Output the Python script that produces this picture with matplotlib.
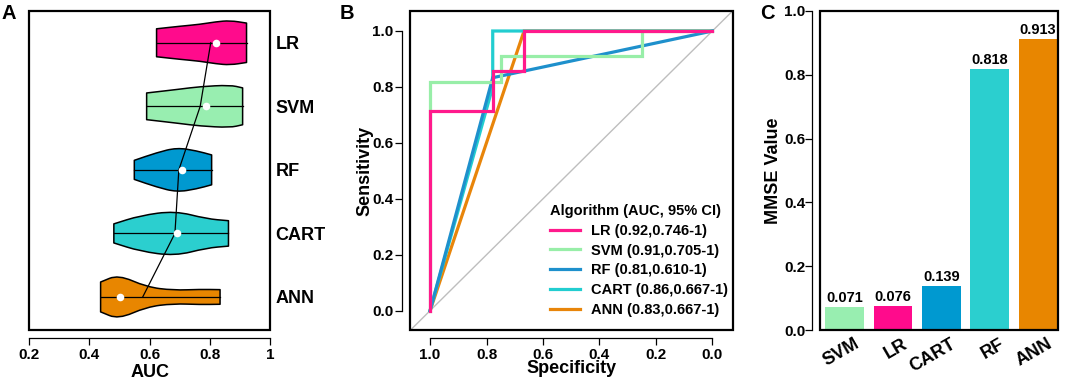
import numpy as np
import matplotlib
matplotlib.use("Agg")
import matplotlib.pyplot as plt
from matplotlib.patches import Rectangle, PathPatch
from matplotlib.path import Path
from matplotlib.transforms import ScaledTranslation

plt.rcParams['font.family'] = ['Liberation Sans', 'DejaVu Sans']
plt.rcParams['font.weight'] = 'bold'

# ---------------- data ----------------
models = ["LR", "SVM", "RF", "CART", "ANN"]
model_colors = {"LR": "#FF0B8C", "SVM": "#98EEB0", "RF": "#0099D0",
                "CART": "#2BCFCF", "ANN": "#E88600"}

# Panel A: violin outline profiles (AUC positions and half-widths)
lr_auc = [0.623, 0.70, 0.767, 0.82, 0.867, 0.922]
lr_hw = [0.22, 0.26, 0.29, 0.33, 0.35, 0.31]
svm_auc = [0.590, 0.70, 0.767, 0.867, 0.909]
svm_hw = [0.21, 0.27, 0.31, 0.335, 0.29]
rf_auc = [0.549, 0.623, 0.690, 0.756, 0.806]
rf_hw = [0.15, 0.27, 0.35, 0.30, 0.235]
cart_auc = [0.481, 0.568, 0.684, 0.789, 0.862]
cart_hw = [0.15, 0.28, 0.355, 0.23, 0.20]
ann_auc = [0.437, 0.496, 0.590, 0.679, 0.767, 0.834]
ann_hw = [0.235, 0.35, 0.157, 0.105, 0.12, 0.115]
auc_means = [0.803, 0.768, 0.697, 0.684, 0.577]
auc_medians = [0.821, 0.788, 0.707, 0.690, 0.500]

# Panel B: ROC curves (specificity, sensitivity)
lr_spec = [1.0, 1.0, 0.778, 0.778, 0.667, 0.667, 0.0]
lr_sens = [0.0, 0.714, 0.714, 0.857, 0.857, 1.0, 1.0]
svm_spec = [1.0, 1.0, 0.75, 0.75, 0.25, 0.25, 0.0]
svm_sens = [0.0, 0.818, 0.818, 0.909, 0.909, 1.0, 1.0]
rf_spec = [1.0, 0.778, 0.0]
rf_sens = [0.0, 0.833, 1.0]
cart_spec = [1.0, 0.778, 0.778, 0.0]
cart_sens = [0.0, 0.80, 1.0, 1.0]
ann_spec = [1.0, 0.667, 0.0]
ann_sens = [0.0, 1.0, 1.0]
roc_labels = ["LR (0.92,0.746-1)", "SVM (0.91,0.705-1)", "RF (0.81,0.610-1)",
              "CART (0.86,0.667-1)", "ANN (0.83,0.667-1)"]
roc_colors = ["#FF1A8C", "#98EEA8", "#1E90CC", "#22CDD0", "#E8850A"]

# Panel C: MMSE values
mmse_models = ["SVM", "LR", "CART", "RF", "ANN"]
mmse_values = [0.071, 0.076, 0.139, 0.818, 0.913]
mmse_colors = ["#98EEB0", "#FF0B8C", "#0099D0", "#2BCFCF", "#E88600"]

W, H = 1065, 381
fig = plt.figure(figsize=(W / 100, H / 100), dpi=100)


def ax_at(x0, y0, x1, y1):
    return fig.add_axes([x0 / W, 1 - y1 / H, (x1 - x0) / W, (y1 - y0) / H])


def add_box(ax):
    ax.add_patch(Rectangle((0, 0), 1, 1, transform=ax.transAxes, fill=False,
                           lw=1.6, edgecolor='black', clip_on=False, zorder=10))
    for s in ax.spines.values():
        s.set_visible(False)


def smooth_chain(pts, verts, codes, first):
    """Append a chain of points, rounding interior points with quadratic curves."""
    verts.append(pts[0]); codes.append(Path.MOVETO if first else Path.LINETO)
    n = len(pts)
    for k in range(1, n - 1):
        if k == 1:
            verts.append(((pts[0][0] + pts[1][0]) / 2, (pts[0][1] + pts[1][1]) / 2))
            codes.append(Path.LINETO)
        m1 = ((pts[k][0] + pts[k + 1][0]) / 2, (pts[k][1] + pts[k + 1][1]) / 2)
        verts.extend([pts[k], m1]); codes.extend([Path.CURVE3, Path.CURVE3])
    verts.append(pts[-1]); codes.append(Path.LINETO)


TICK_FS = 11
LAB_FS = 13

# ---------------- Panel A ----------------
axA = ax_at(29.3, 11, 270, 330)
add_box(axA)
axA.set_xlim(0.2, 1.0)
axA.set_ylim(0.48, 5.5)
profiles = {"LR": (lr_auc, lr_hw), "SVM": (svm_auc, svm_hw), "RF": (rf_auc, rf_hw),
            "CART": (cart_auc, cart_hw), "ANN": (ann_auc, ann_hw)}
ypos = {m: 5 - i for i, m in enumerate(models)}
for m in models:
    a, hw = profiles[m]
    y = ypos[m]
    top = [(xa, y + h) for xa, h in zip(a, hw)]
    bot = [(xa, y - h) for xa, h in zip(a, hw)][::-1]
    verts, codes = [], []
    smooth_chain(top, verts, codes, True)
    smooth_chain(bot, verts, codes, False)
    verts.append(top[0]); codes.append(Path.CLOSEPOLY)
    axA.add_patch(PathPatch(Path(verts, codes), facecolor=model_colors[m],
                            edgecolor='black', lw=1.1, joinstyle='round', zorder=2))
    axA.plot([a[0], a[-1]], [y, y], color='black', lw=0.9, zorder=3)
ys = [ypos[m] for m in models]
axA.plot(auc_means, ys, color='black', lw=0.9, zorder=4)
axA.scatter(auc_medians, ys, s=30, color='white', zorder=5, linewidths=0)
axA.set_xticks([0.2, 0.4, 0.6, 0.8, 1.0])
axA.set_xticklabels(["0.2", "0.4", "0.6", "0.8", "1"])
axA.spines['bottom'].set_visible(True)
axA.spines['bottom'].set_position(('outward', 6))
axA.spines['bottom'].set_bounds(0.2, 1.0)
axA.spines['bottom'].set_linewidth(0.9)
axA.tick_params(axis='x', length=5, width=0.9, labelsize=TICK_FS, pad=2)
axA.yaxis.tick_right()
axA.set_yticks(ys)
axA.set_yticklabels(models)
axA.tick_params(axis='y', length=0, labelsize=13, pad=4)
axA.set_xlabel("AUC", fontsize=LAB_FS, fontweight='bold')
axA.xaxis.set_label_coords(0.5, (330 - 376.7) / 319)
axA.xaxis.label.set_va('baseline')

# ---------------- Panel B ----------------
axB = ax_at(410, 11, 732.7, 330)
add_box(axB)
axB.set_xlim(1.071, -0.072)
axB.set_ylim(-0.069, 1.0715)
axB.axline((1, 0), (0, 1), color='#BEBEBE', lw=1.0, zorder=1)
curves = [(lr_spec, lr_sens), (svm_spec, svm_sens), (rf_spec, rf_sens),
          (cart_spec, cart_sens), (ann_spec, ann_sens)]
draw_order = [4, 3, 2, 1, 0]
handles = [None] * 5
for i in draw_order:
    sp, se = curves[i]
    ln, = axB.plot(sp, se, color=roc_colors[i], lw=2.3, zorder=3 + (4 - i),
                   solid_joinstyle='miter', label=roc_labels[i])
    handles[i] = ln
ticksB = [1.0, 0.8, 0.6, 0.4, 0.2, 0.0]
axB.set_xticks(ticksB)
axB.set_xticklabels([f"{t:.1f}" for t in ticksB])
axB.set_yticks(ticksB[::-1])
axB.set_yticklabels([f"{t:.1f}" for t in ticksB[::-1]], rotation=90, va='center')
for side in ['bottom', 'left']:
    axB.spines[side].set_visible(True)
    axB.spines[side].set_position(('outward', 6))
    axB.spines[side].set_bounds(0.0, 1.0)
    axB.spines[side].set_linewidth(0.9)
axB.tick_params(axis='x', length=5, width=0.9, labelsize=TICK_FS, pad=2)
axB.tick_params(axis='y', length=5, width=0.9, labelsize=TICK_FS, pad=1)
axB.set_xlabel("Specificity", fontsize=LAB_FS, fontweight='bold')
axB.xaxis.set_label_coords(0.5, (330 - 373.3) / 319)
axB.xaxis.label.set_va('baseline')
axB.set_ylabel("Sensitivity", fontsize=LAB_FS, fontweight='bold')
axB.yaxis.set_label_coords((373 - 410) / 322.7, 0.5)
leg = axB.legend(handles=handles, labels=roc_labels, loc='lower right',
                 bbox_to_anchor=(1.0, 0.027), frameon=False,
                 title="Algorithm (AUC, 95% CI)", prop={'weight': 'bold', 'size': 10.5},
                 title_fontproperties={'weight': 'bold', 'size': 10.5},
                 handlelength=2.05, handletextpad=0.8, labelspacing=0.4,
                 borderaxespad=0.0, borderpad=0.3, alignment='left')

# ---------------- Panel C ----------------
axC = ax_at(820, 11, 1058.3, 330)
add_box(axC)
xs = np.arange(len(mmse_models))
axC.bar(xs, mmse_values, width=0.8, color=mmse_colors, zorder=2)
axC.set_xlim(-0.51, 4.42)
axC.set_ylim(0, 1.0)
for xb, v in zip(xs, mmse_values):
    axC.text(xb, v + 0.006, f"{v:.3f}", ha='center', va='bottom',
             fontsize=10.5, fontweight='bold')
ticksC = [0.0, 0.2, 0.4, 0.6, 0.8, 1.0]
axC.set_yticks(ticksC)
axC.set_yticklabels([f"{t:.1f}" for t in ticksC], rotation=90, va='center')
axC.spines['left'].set_visible(True)
axC.spines['left'].set_position(('outward', 6))
axC.spines['left'].set_bounds(0.0, 1.0)
axC.spines['left'].set_linewidth(0.9)
axC.tick_params(axis='y', length=5, width=0.9, labelsize=TICK_FS, pad=-0.5)
axC.set_xticks(xs)
axC.set_xticklabels(mmse_models, rotation=30, ha='right', va='top',
                    rotation_mode='anchor', fontsize=13)
axC.tick_params(axis='x', length=0, pad=4)
for lbl in axC.get_xticklabels():
    lbl.set_transform(lbl.get_transform() + ScaledTranslation(9 / 100, 0, fig.dpi_scale_trans))
axC.set_ylabel("MMSE Value", fontsize=LAB_FS, fontweight='bold')
axC.yaxis.set_label_coords((782 - 820) / 238.3, 0.5)

# Panel letters
for letter, xpx in [("A", 2), ("B", 340), ("C", 760)]:
    fig.text(xpx / W, 1 - 19 / H, letter, fontsize=14.5, fontweight='bold',
             ha='left', va='baseline')

fig.savefig("out.png", dpi=100)
